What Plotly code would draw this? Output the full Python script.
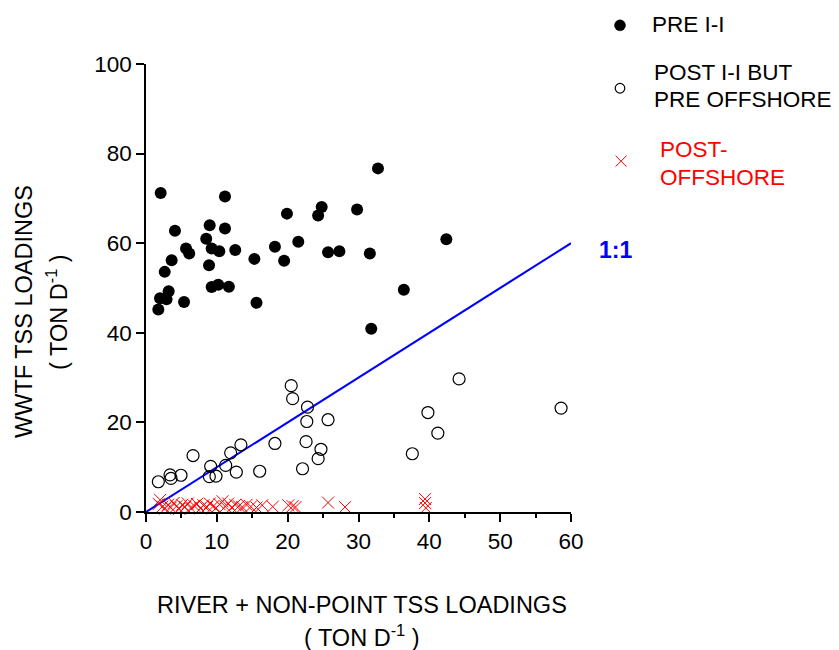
import plotly.graph_objects as go

# ---- data ----
pre_x = [2.07, 11.15, 19.9, 4.09, 8.99, 11.15, 8.5, 21.5, 5.65, 6.1, 9.27, 10.35, 12.6, 18.2,
         15.3, 19.5, 3.62, 8.9, 2.64, 9.27, 10.2, 11.7, 3.2, 1.98, 2.9, 5.37, 15.6, 1.74,
         32.75, 24.8, 24.3, 29.8, 25.7, 27.3, 31.6, 42.4, 36.4, 31.8]
pre_y = [71.2, 70.4, 66.6, 62.8, 64.0, 63.3, 61.0, 60.3, 58.8, 57.7, 58.8, 58.2, 58.5, 59.2,
         56.5, 56.1, 56.2, 55.1, 53.6, 50.2, 50.7, 50.3, 49.3, 47.7, 47.5, 46.9, 46.7, 45.2,
         76.7, 68.1, 66.2, 67.5, 58.0, 58.2, 57.7, 60.9, 49.6, 40.9]

post_x = [20.5, 20.7, 13.4, 11.95, 18.2, 6.64, 9.13, 11.25, 12.75, 16.05, 8.94, 9.88, 4.94,
          3.39, 3.53, 1.74, 22.8, 22.7, 25.7, 22.6, 24.7, 24.3, 22.1, 44.2, 39.8, 41.2, 37.6, 58.6]
post_y = [28.2, 25.3, 15.0, 13.2, 15.3, 12.6, 10.2, 10.4, 8.9, 9.1, 7.9, 8.0, 8.2,
          8.3, 7.5, 6.75, 23.4, 20.2, 20.6, 15.7, 14.0, 11.9, 9.65, 29.7, 22.2, 17.6, 13.0, 23.2]

off_x = [1.8, 2.0, 2.3, 2.7, 3.1, 3.5, 3.9, 4.3, 4.7, 5.1, 5.5, 5.9, 6.3, 6.8, 7.2, 7.7,
         8.1, 8.6, 9.0, 9.5, 9.9, 10.4, 10.8, 11.2, 11.6, 12.1, 12.6, 13.1, 13.6, 14.2,
         14.8, 15.6, 16.4, 17.9, 20.1, 20.7, 21.1, 25.7, 28.1, 39.4, 39.4, 39.5]
off_y = [1.8, 2.7, 1.2, 0.8, 1.6, 1.0, 2.0, 1.3, 0.7, 1.6, 1.1, 1.9, 0.9, 1.4, 1.8, 0.8,
         1.5, 1.1, 1.9, 1.3, 0.9, 1.7, 2.4, 1.2, 1.9, 1.0, 1.6, 1.3, 1.1, 1.6,
         1.2, 1.0, 1.5, 1.2, 1.5, 1.3, 1.1, 2.1, 1.1, 2.9, 2.0, 0.9]

one_to_one = [0, 60]

x_ticks = [0, 10, 20, 30, 40, 50, 60]
y_ticks = [0, 20, 40, 60, 80, 100]

FONT = "Liberation Sans, Arial, sans-serif"
OFF = 8  # page body margin in the browser
W, H = 839 - OFF, 650 - OFF
# plot area in figure pixels
L, R, T, B = 146 - OFF, 571 - OFF, 63.7 - OFF, 512.3 - OFF


def px(xp):
    return (xp - OFF - L) / (R - L)


def py(yp):
    return (B - (yp - OFF)) / (B - T)


fig = go.Figure()

fig.add_trace(go.Scatter(x=one_to_one, y=one_to_one, mode="lines",
                         line=dict(color="#0000ff", width=2), cliponaxis=False,
                         showlegend=False, hoverinfo="skip"))
fig.add_trace(go.Scatter(x=off_x, y=off_y, mode="markers", name="POST-OFFSHORE",
                         marker=dict(symbol="x-thin", size=12, color="red",
                                     line=dict(color="red", width=1)),
                         cliponaxis=False, showlegend=False))
fig.add_trace(go.Scatter(x=post_x, y=post_y, mode="markers", name="POST I-I BUT PRE OFFSHORE",
                         marker=dict(symbol="circle-open", size=12, color="black",
                                     line=dict(color="black", width=1.2)),
                         cliponaxis=False, showlegend=False))
fig.add_trace(go.Scatter(x=pre_x, y=pre_y, mode="markers", name="PRE I-I",
                         marker=dict(symbol="circle", size=12, color="black"),
                         cliponaxis=False, showlegend=False))


# legend symbols as paper shapes (window pixel centres)
def circle(cx, cy, r, fill, line_w):
    return dict(type="circle", xref="paper", yref="paper",
                x0=px(cx - r), x1=px(cx + r), y0=py(cy + r), y1=py(cy - r),
                fillcolor=fill, line=dict(color="black", width=line_w))


def cross(cx, cy, r, color):
    path = (f"M {px(cx - r)} {py(cy - r)} L {px(cx + r)} {py(cy + r)} "
            f"M {px(cx - r)} {py(cy + r)} L {px(cx + r)} {py(cy - r)}")
    return dict(type="path", xref="paper", yref="paper", path=path,
                line=dict(color=color, width=1))


shapes = [
    circle(620, 25, 5.5, "black", 0.5),
    circle(620, 88, 4.8, "white", 1.2),
    cross(621, 161, 5.5, "red"),
]

TXT = 23.5
LEG = 22.5
annotations = [
    dict(text="PRE I-I", x=px(650), y=py(24), xanchor="left", yanchor="middle",
         font=dict(size=LEG, color="black")),
    dict(text="POST I-I BUT", x=px(652), y=py(72), xanchor="left", yanchor="middle",
         font=dict(size=LEG, color="black")),
    dict(text="PRE OFFSHORE", x=px(652), y=py(99), xanchor="left", yanchor="middle",
         font=dict(size=LEG, color="black")),
    dict(text="POST-", x=px(658), y=py(149), xanchor="left", yanchor="middle",
         font=dict(size=LEG, color="red")),
    dict(text="OFFSHORE", x=px(658), y=py(177), xanchor="left", yanchor="middle",
         font=dict(size=LEG, color="red")),
    dict(text="<b>1:1</b>", x=px(615), y=py(250), xanchor="center", yanchor="middle",
         font=dict(size=23, color="#0000ff")),
    dict(text="RIVER + NON-POINT TSS LOADINGS", x=px(362), y=py(605), xanchor="center",
         yanchor="middle", font=dict(size=TXT, color="black")),
    dict(text="( TON D<sup>-1</sup> )", x=px(362), y=py(636), xanchor="center",
         yanchor="middle", font=dict(size=TXT, color="black")),
    dict(text="WWTF TSS LOADINGS", x=px(24), y=py(312), xanchor="center", yanchor="middle",
         textangle=-90, font=dict(size=TXT, color="black")),
    dict(text="( TON D<sup>-1</sup> )", x=px(57), y=py(312), xanchor="center", yanchor="middle",
         textangle=-90, font=dict(size=TXT, color="black")),
]
for a in annotations:
    a.update(xref="paper", yref="paper", showarrow=False)

fig.update_layout(
    width=W, height=H,
    margin=dict(l=L, r=W - R, t=T, b=H - B, pad=0),
    paper_bgcolor="white", plot_bgcolor="white",
    font=dict(family=FONT, color="black", size=22),
    showlegend=False,
    annotations=annotations,
    shapes=shapes,
    xaxis=dict(range=[0, 60], tickvals=x_ticks, ticktext=[str(v) for v in x_ticks],
               showgrid=False, zeroline=False, showline=True, linecolor="black", linewidth=1.5,
               ticks="outside", ticklen=8, tickwidth=1.5, tickcolor="black",
               minor=dict(dtick=5, ticks="outside", ticklen=4, tickwidth=1.5, tickcolor="black",
                          showgrid=False),
               tickfont=dict(size=22.5)),
    yaxis=dict(range=[0, 100], tickvals=y_ticks, ticktext=[str(v) for v in y_ticks],
               showgrid=False, zeroline=False, showline=True, linecolor="black", linewidth=1.5,
               ticks="outside", ticklen=8, tickwidth=1.5, tickcolor="black",
               tickfont=dict(size=22.5)),
)

fig.write_html("out.html")
